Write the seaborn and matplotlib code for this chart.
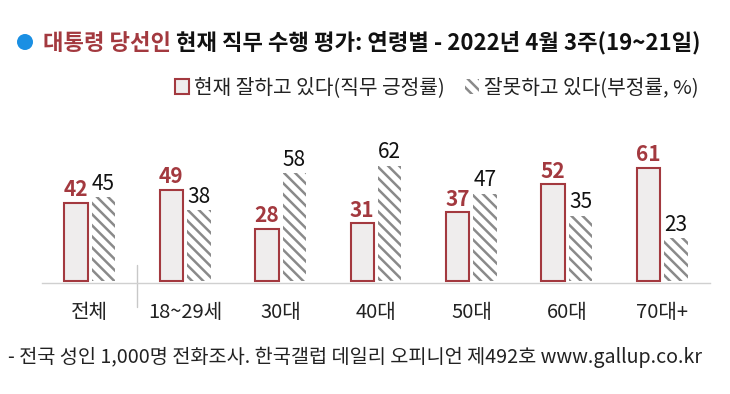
import matplotlib
matplotlib.use("Agg")
import matplotlib.pyplot as plt
from matplotlib.patches import Patch, Circle
import seaborn as sns
import pandas as pd

categories = ['전체', '18~29세', '30대', '40대', '50대', '60대', '70대+']
positive = [42, 49, 28, 31, 37, 52, 61]
negative = [45, 38, 58, 62, 47, 35, 23]
series_names = ['현재 잘하고 있다(직무 긍정률)', '잘못하고 있다(부정률, %)']

title_red = '대통령 당선인'
title_rest = ' 현재 직무 수행 평가: 연령별 - 2022년 4월 3주(19~21일)'
footer = '- 전국 성인 1,000명 전화조사. 한국갤럽 데일리 오피니언 제492호 www.gallup.co.kr'

RED = '#a3393f'
FILL = '#efeded'
HATCH_GRAY = '#8a8a8a'
BLUE = '#1a8fe3'

sns.set_theme(style='white')
plt.rcParams['font.family'] = ['Noto Sans CJK KR', 'DejaVu Sans']
plt.rcParams['hatch.linewidth'] = 1.8
plt.rcParams['hatch.color'] = HATCH_GRAY

df = pd.DataFrame({
    'cat': categories * 2,
    'val': positive + negative,
    'series': [series_names[0]] * len(categories) + [series_names[1]] * len(categories),
})

W, H = 730, 394
fig = plt.figure(figsize=(W / 100, H / 100), dpi=100)
ax_bottom_px = 283
ax_top_px = 140
ax = fig.add_axes([42 / W, (H - ax_bottom_px) / H, (710 - 42) / W, (ax_bottom_px - ax_top_px) / H])

sns.barplot(data=df, x='cat', y='val', hue='series', order=categories,
            hue_order=series_names, width=0.576, gap=0.145, ax=ax, legend=False,
            palette=[FILL, 'white'], saturation=1)

pos_c, neg_c = ax.containers[0], ax.containers[1]
for p in pos_c:
    p.set_facecolor(FILL)
    p.set_edgecolor(RED)
    p.set_linewidth(1.5)
for p in neg_c:
    p.set_facecolor('white')
    p.set_edgecolor(HATCH_GRAY)
    p.set_linewidth(0)
    p.set_hatch('\\\\\\')

ax.bar_label(pos_c, labels=[str(v) for v in positive], padding=2, fontsize=15,
             color=RED, fontweight='bold')
ax.bar_label(neg_c, labels=[str(v) for v in negative], padding=2, fontsize=15,
             color='#111111')

px_per_unit = 1.857
ax.set_ylim(-(ax_bottom_px - 281) / px_per_unit, (281 - ax_top_px) / px_per_unit)
ax.set_xlim(-0.5, len(categories) - 0.5)
ax.set_xlabel('')
ax.set_ylabel('')
ax.set_yticks([])
for s in ['top', 'right', 'left']:
    ax.spines[s].set_visible(False)
ax.spines['bottom'].set_color('#d0d0d0')
ax.spines['bottom'].set_linewidth(1)
ax.set_xticks(range(len(categories)))
ax.set_xticklabels(categories, fontsize=14.5, color='#222222')
ax.set_xticks([i - 0.5 for i in range(len(categories) + 1)], minor=True)
ax.tick_params(axis='x', which='major', length=0, pad=14)
ax.tick_params(axis='x', which='minor', length=5, width=1, color='#d0d0d0', direction='out')
# separator between total and age groups
ax.axvline(0.5, ymin=(ax_bottom_px - 307) / (ax_bottom_px - ax_top_px),
           ymax=(ax_bottom_px - 265) / (ax_bottom_px - ax_top_px),
           color='#c8c8c8', lw=1, clip_on=False)

# title
fig.patches.append(Circle((25 / 100, (H - 42) / 100), 0.08, transform=fig.dpi_scale_trans,
                          facecolor=BLUE, edgecolor='none'))
t1 = fig.text(43 / W, (H - 43) / H, title_red, fontsize=16, fontweight='bold',
              color=RED, va='center', ha='left')
fig.canvas.draw()
bb = t1.get_window_extent()
fig.text(bb.x1 / W, (H - 43) / H, title_rest, fontsize=16, fontweight='bold',
         color='#111111', va='center', ha='left')

# legend
handles = [Patch(facecolor=FILL, edgecolor=RED, linewidth=1.5),
           Patch(facecolor='white', edgecolor=HATCH_GRAY, linewidth=0, hatch='\\\\\\')]
fig.legend(handles, series_names, loc='center right', bbox_to_anchor=(699 / W, (H - 88) / H),
           ncol=2, frameon=False, fontsize=14.6, handlelength=0.7, handleheight=0.7,
           handletextpad=0.25, columnspacing=1.0, borderaxespad=0, borderpad=0,
           labelcolor='#222222')

fig.text(8 / W, (H - 357) / H, footer, fontsize=14.2, color='#222222', va='center', ha='left')

fig.savefig('out.png', dpi=100)
